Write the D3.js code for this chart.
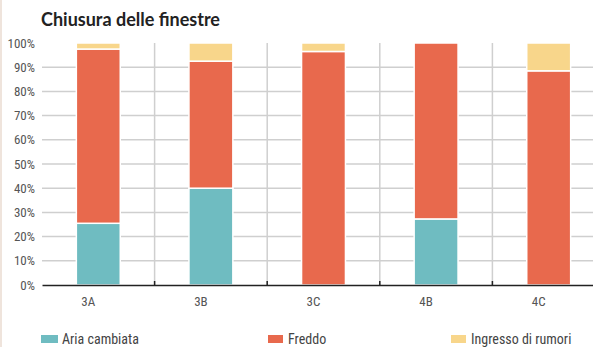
<!DOCTYPE html>
<html>
<head>
<meta charset="utf-8">
<script src="https://cdn.jsdelivr.net/npm/d3@7"></script>
<style>
  body { margin: 0; background: #fff; }
  .tick text { font-family: "Roboto Condensed", "Liberation Sans Narrow", "DejaVu Sans Condensed", Roboto, sans-serif; }
</style>
</head>
<body>
<svg id="chart" width="593" height="347"></svg>
<script>
// data (percent)
const classes = ["3A", "3B", "3C", "4B", "4C"];
const ariaCambiata = [25.5, 40, 0, 27.3, 0];
const freddo = [72, 52.5, 96.5, 72.7, 88.5];
const ingressoRumori = [2.5, 7.5, 3.5, 0, 11.5];
const seriesNames = ["Aria cambiata", "Freddo", "Ingresso di rumori"];
const seriesColors = ["#6fbcc1", "#e8694d", "#f8d68b"];
const yTicks = [0, 10, 20, 30, 40, 50, 60, 70, 80, 90, 100];

const svg = d3.select("#chart");
const W = 593, H = 347;
const margin = {top: 43, right: -12, bottom: 62, left: 42};

// light border on the left edge
svg.append("rect").attr("x", 0).attr("y", 0).attr("width", 2).attr("height", H).attr("fill", "#efe4dc");

svg.append("text")
  .attr("x", 41).attr("y", 26)
  .attr("font-family", "Lato, 'Open Sans', sans-serif")
  .attr("font-weight", "bold")
  .attr("font-size", 18)
  .attr("fill", "#222")
  .text("Chiusura delle finestre");

const x = d3.scaleBand()
  .domain(classes)
  .range([margin.left, W - margin.right])
  .paddingInner(0)
  .paddingOuter(0);

const y = d3.scaleLinear()
  .domain([0, 100])
  .range([H - margin.bottom, margin.top]);

const table = classes.map((c, i) => ({
  cls: c,
  "Aria cambiata": ariaCambiata[i],
  "Freddo": freddo[i],
  "Ingresso di rumori": ingressoRumori[i]
}));
const stack = d3.stack().keys(seriesNames)(table);
const color = d3.scaleOrdinal().domain(seriesNames).range(seriesColors);

// horizontal grid
svg.append("g")
  .selectAll("line")
  .data(yTicks.filter(t => t > 0 && t < 100))
  .join("line")
  .attr("x1", margin.left).attr("x2", W)
  .attr("y1", d => y(d)).attr("y2", d => y(d))
  .attr("stroke", "#cfcfcf")
  .attr("stroke-width", 1.5);

// vertical grid at band boundaries
svg.append("g")
  .selectAll("line")
  .data(classes.slice(1))
  .join("line")
  .attr("x1", d => x(d)).attr("x2", d => x(d))
  .attr("y1", y(100)).attr("y2", y(0))
  .attr("stroke", "#cfcfcf")
  .attr("stroke-width", 1.5);

// y axis labels
const yAxis = svg.append("g")
  .attr("transform", `translate(${margin.left},0)`)
  .call(d3.axisLeft(y).tickValues(yTicks).tickFormat(d => d + "%").tickSize(0).tickPadding(7));
yAxis.select(".domain").remove();
yAxis.selectAll("text").attr("font-size", 13).attr("fill", "#555");

// bars
const bw = x.bandwidth() * 0.39;
svg.append("g")
  .selectAll("g")
  .data(stack)
  .join("g")
  .attr("fill", d => color(d.key))
  .selectAll("rect")
  .data(d => d.filter(s => s[1] - s[0] > 0))
  .join("rect")
  .attr("x", d => x(d.data.cls) + (x.bandwidth() - bw) / 2)
  .attr("width", bw)
  .attr("y", d => y(d[1]))
  .attr("height", d => y(d[0]) - y(d[1]))
  .attr("stroke", "#fff")
  .attr("stroke-width", 1.5);

// x axis
const xAxis = svg.append("g")
  .attr("transform", `translate(0,${y(0)})`)
  .call(d3.axisBottom(x).tickSize(0).tickPadding(12));
xAxis.select(".domain").attr("stroke", "#222").attr("stroke-width", 1.5);
xAxis.selectAll("text").attr("font-size", 13).attr("fill", "#555").attr("dx", -10);

// small dark ticks at band boundaries
xAxis.append("g")
  .selectAll("line")
  .data(classes.slice(1))
  .join("line")
  .attr("x1", d => x(d)).attr("x2", d => x(d))
  .attr("y1", 0).attr("y2", -4)
  .attr("stroke", "#222")
  .attr("stroke-width", 1.5);

// legend
const legendX = [41, 268, 451];
const legend = svg.append("g")
  .selectAll("g")
  .data(seriesNames)
  .join("g")
  .attr("transform", (d, i) => `translate(${legendX[i]},335)`);
legend.append("rect")
  .attr("width", (d, i) => i === 0 ? 17 : 15)
  .attr("height", 8)
  .attr("fill", d => color(d));
legend.append("text")
  .attr("x", (d, i) => i === 0 ? 21 : 20)
  .attr("y", 9)
  .attr("font-family", "'Roboto Condensed', 'Liberation Sans Narrow', 'DejaVu Sans Condensed', Roboto, sans-serif")
  .attr("font-size", 14)
  .attr("fill", "#444")
  .text(d => d);
</script>
</body>
</html>
